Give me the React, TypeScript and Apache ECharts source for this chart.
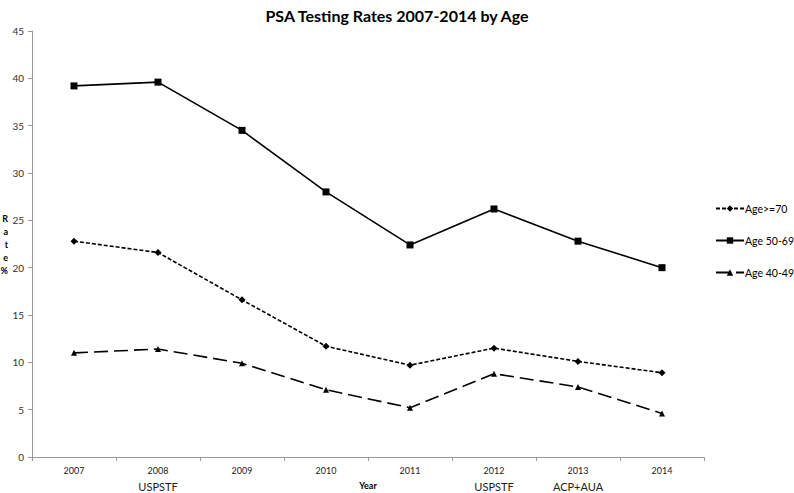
import React, { useEffect, useRef } from "react";
import * as echarts from "echarts";

const years = ["2007", "2008", "2009", "2010", "2011", "2012", "2013", "2014"];
const annotations = ["", "USPSTF", "", "", "", "USPSTF", "ACP+AUA", ""];
const age70plus = [22.8, 21.6, 16.6, 11.7, 9.7, 11.5, 10.1, 8.9];
const age5069 = [39.2, 39.6, 34.5, 28.0, 22.4, 26.2, 22.8, 20.0];
const age4049 = [11.0, 11.4, 9.9, 7.1, 5.2, 8.8, 7.4, 4.6];
const seriesNames = ["Age>=70", "Age 50-69", "Age 40-49"];

const FONT = "Lato, 'Open Sans', sans-serif";

export default function App() {
  const ref = useRef<HTMLDivElement>(null);
  useEffect(() => {
    if (!ref.current) return;
    const chart = echarts.init(ref.current, undefined, { renderer: "svg" });
    const lineBase = { color: "#000", width: 1.6 };
    chart.setOption({
      animation: false,
      backgroundColor: "#fff",
      textStyle: { fontFamily: FONT },
      title: {
        text: "PSA Testing Rates 2007-2014 by Age",
        left: "center",
        top: 2,
        textStyle: { fontSize: 16, fontWeight: "bold", color: "#000", fontFamily: FONT },
      },
      legend: {
        orient: "vertical",
        left: 710,
        top: 198,
        itemGap: 21,
        itemWidth: 28,
        itemHeight: 8,
        textStyle: { fontSize: 10.5, color: "#000", fontFamily: FONT, padding: [0, 0, 0, -4] },
        data: seriesNames,
      },
      grid: { left: 32, right: 90, top: 31, bottom: 36, containLabel: false, outerBoundsMode: "none" },
      xAxis: {
        type: "category",
        data: years,
        boundaryGap: true,
        name: "Year",
        nameLocation: "middle",
        nameGap: 24,
        nameMoveOverlap: false,
        nameTextStyle: { fontSize: 9, fontWeight: "bold", color: "#000", fontFamily: FONT },
        axisLine: { lineStyle: { color: "#999", width: 1 } },
        axisTick: { show: true, length: 4, lineStyle: { color: "#999" } },
        axisLabel: {
          interval: 0,
          margin: 6,
          formatter: (v: string, i: number) =>
            annotations[i] ? `{y|${v}}\n{a|${annotations[i]}}` : `{y|${v}}`,
          rich: {
            y: { fontSize: 9, color: "#222", fontFamily: FONT, lineHeight: 15 },
            a: { fontSize: 11, color: "#222", fontFamily: FONT, lineHeight: 17 },
          },
        },
        splitLine: { show: false },
      },
      yAxis: {
        type: "value",
        min: 0,
        max: 45,
        interval: 5,
        name: "R\na\nt\ne\n%",
        nameLocation: "middle",
        nameRotate: 0,
        nameGap: 24,
        nameMoveOverlap: false,
        nameTextStyle: { fontSize: 9, fontWeight: "bold", color: "#000", lineHeight: 13, fontFamily: FONT },
        axisLine: { show: true, lineStyle: { color: "#999", width: 1 } },
        axisTick: { show: true, length: 4, lineStyle: { color: "#999" } },
        axisLabel: { fontSize: 10, color: "#333", margin: 8, fontFamily: FONT },
        splitLine: { show: false },
      },
      series: [
        {
          name: seriesNames[0],
          type: "line",
          data: age70plus,
          symbol: "diamond",
          symbolSize: 7,
          itemStyle: { color: "#000" },
          lineStyle: { ...lineBase, type: [4, 2] },
        },
        {
          name: seriesNames[1],
          type: "line",
          data: age5069,
          symbol: "rect",
          symbolSize: 7,
          itemStyle: { color: "#000" },
          lineStyle: { ...lineBase, type: "solid" },
        },
        {
          name: seriesNames[2],
          type: "line",
          data: age4049,
          symbol: "triangle",
          symbolSize: 6,
          itemStyle: { color: "#000" },
          lineStyle: { ...lineBase, type: [14, 6] },
        },
      ],
    });
    return () => chart.dispose();
  }, []);
  return <div ref={ref} style={{ width: 794, height: 493, position: "fixed", left: 0, top: 0 }} />;
}
